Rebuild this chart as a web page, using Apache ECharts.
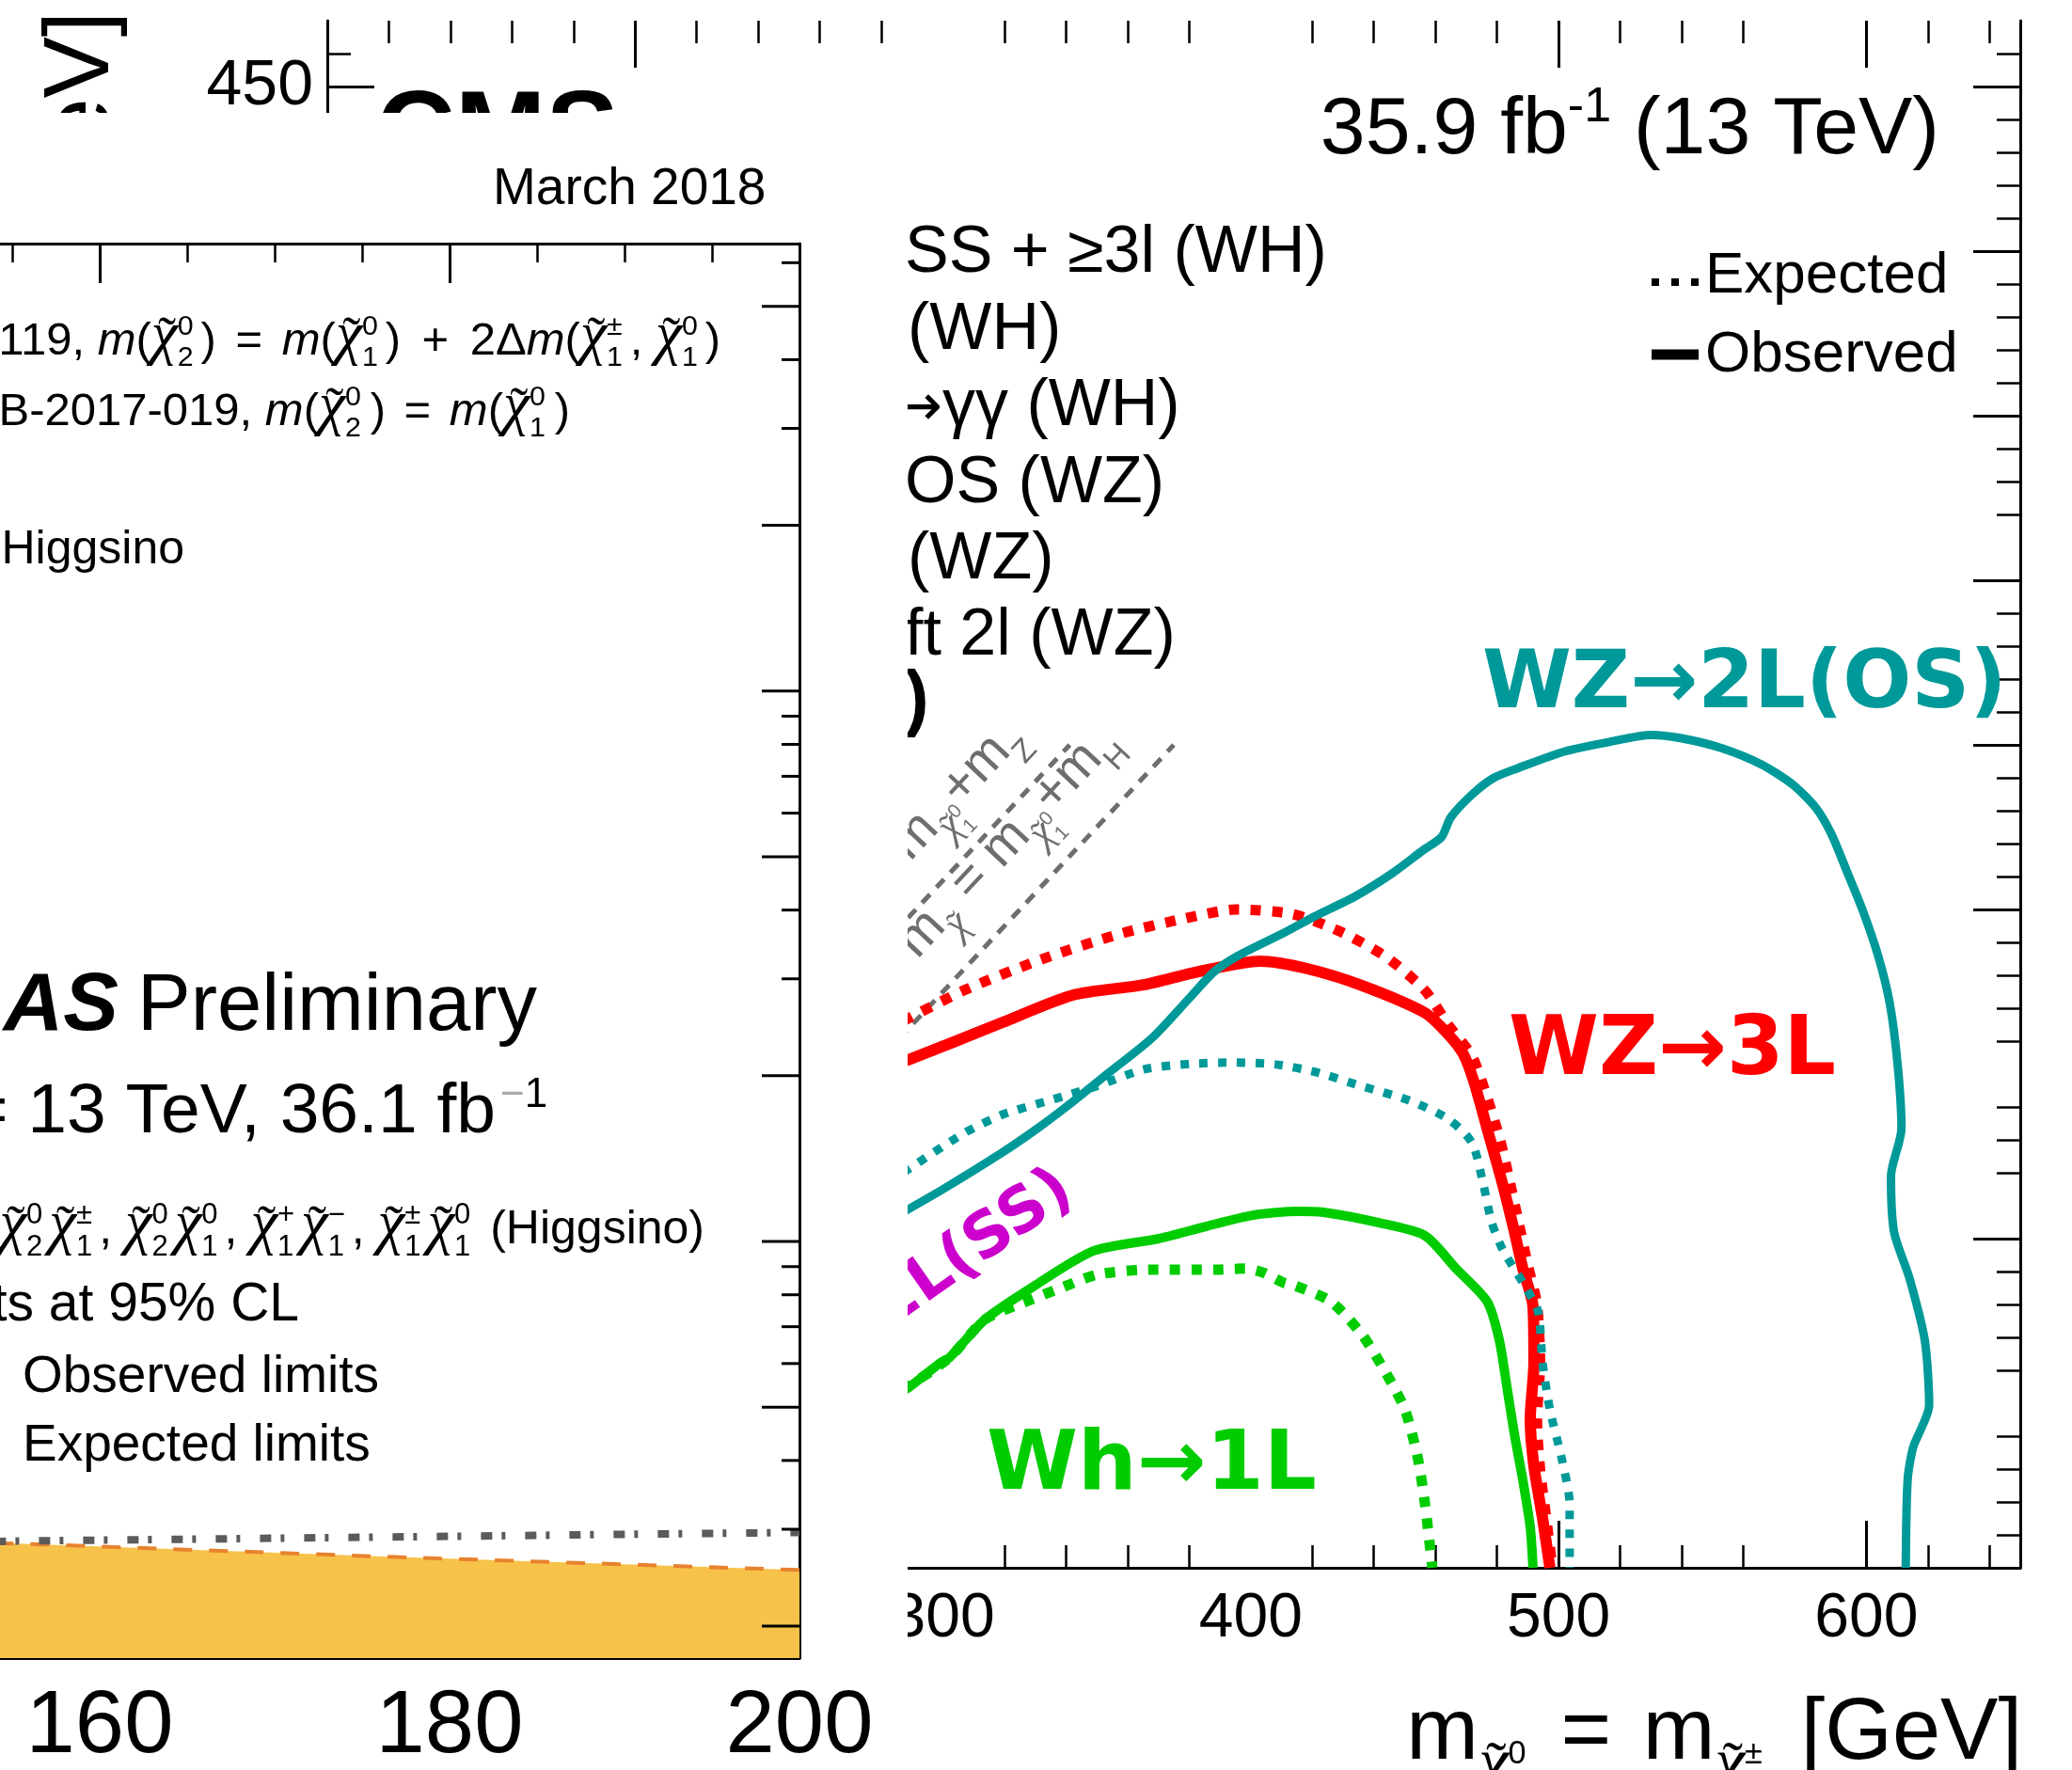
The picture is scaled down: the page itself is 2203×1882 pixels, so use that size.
<!DOCTYPE html>
<html><head><meta charset="utf-8">
<script src="https://cdn.jsdelivr.net/npm/echarts@6/dist/echarts.min.js"></script>
<style>
html,body{margin:0;padding:0;background:#fff;overflow:hidden;}
#cms{position:absolute;left:0;top:0;width:2203px;height:1882px;}
#atlas{position:absolute;left:0;top:120px;width:965px;height:1762px;background:#fff;}
</style></head><body>
<div id="cms"></div><div id="atlas"></div>
<script>
// ================= CMS plot data (GeV) =================
const tealObs = [[287,108],[300,115],[319,126],[330,133],[340,140],[352,149],[368,161],[380,173],[388,181],[396,186],[411,193],[421,198],[434,204],[446,211],[456,218],[462,222],[465,228],[472,235],[479,240],[487,243],[502,248],[517,251],[530,253],[540,252],[553,249],[566,244],[576,238],[583.5,231],[588.6,223],[593.7,211.5],[598.7,200],[603.8,186],[607.6,171.5],[610.2,152.5],[611.4,133.4],[608,119],[609,102],[614,88],[619,69],[620.4,49.4],[615.2,36.6],[613.4,26.6],[612.8,0]];
const tealExp = [[287,120],[306.8,132],[319.4,137.7],[334.7,142],[349.9,146.3],[365.2,151.4],[380.5,153.1],[395,153.5],[408.3,152.9],[421.1,150.6],[436.1,146.3],[451.4,142],[464.2,136.3],[471.9,129.1],[475.6,116.3],[478.3,104.9],[481.9,96.6],[488.4,86.6],[493.3,78],[494.8,62.3],[497.2,48],[500.9,33.7],[503.6,19.4],[503.6,0]];
const redObs = [[287,154],[288.8,154.3],[319.4,165.7],[342.3,174],[365.2,177.1],[383,181.1],[403.1,184.3],[418.4,182],[436.1,176.9],[456.6,168.6],[464.2,162],[469.1,156],[472.5,147.7],[476.8,133.4],[481.9,116.3],[485.6,102.3],[488.4,90.9],[491.7,79.4],[492,62.3],[490.8,45.1],[492,30.9],[494.8,15.1],[497.2,0]];
const redExp = [[287,166],[306.8,175.4],[332.2,184.9],[357.6,192.6],[377.7,197.1],[395.4,200],[413.5,198.6],[428.8,193.4],[443.8,185.7],[456.6,175.4],[464.2,164.9],[471.9,155.4],[476.8,142.9],[481,130],[484,118],[487,105],[490,92],[493,80],[494,62],[493,45],[494,30],[496,15],[498,0]];
const greenObs = [[287,54],[288.5,54.5],[299.2,62.3],[302.3,64],[313.6,75.4],[329.8,85.7],[349,96.3],[370.1,100],[385.4,103.7],[400.7,107.1],[415.3,108.3],[423.6,108],[441.3,104.9],[456.6,100.9],[466.7,90.9],[476.8,80.9],[480.7,69.4],[483.2,55.1],[485.6,40.9],[488.4,26.6],[490.8,12.3],[491.7,0]];
const greenExp = [[287,54],[302.3,64],[313.6,75.4],[327.6,81.1],[338,84.9],[350.2,89.1],[368.6,90.6],[388.8,90.6],[398.2,90.9],[404,89.7],[410.7,86.6],[414.4,85.7],[426,80.9],[436.1,70.9],[443.8,59.4],[450.1,48],[454.2,33.7],[456.6,19.4],[459,0]];
const diagZ = [[91.2,0],[341.2,250]];
const diagH = [[125,0],[375,250]];
const cmsXMin = 100, cmsXMax = 650, cmsYMin = 0, cmsYMax = 470;
const cmsXLabels = [100,200,300,400,500,600];
const cmsXMajorTicks = [100,200,500,600];
const cmsXMinorTicks = [120,140,160,180,220,240,260,280,320,340,360,380,420,440,460,480,520,540,560,620,640];
const cmsYLabels = [0,50,100,150,200,250,300,350,400,450];
const cmsYMajorTicks = [0,100,200,250,300,350,400,450];
const cmsYMinorTicks = [10,20,30,40,60,70,80,90,120,130,140,160,170,180,190,210,220,230,240,260,270,280,290,320,330,340,360,370,380,390,410,420,430,440,460];
const cmsLegendLines = ['SS + ≥3l (WH)','(WH)','γγ (WH)','OS (WZ)','(WZ)','ft 2l (WZ)'];

// ================= ATLAS plot data =================
const atlasXMin = 100, atlasXMax = 200, atlasYMin = 0.35, atlasYMax = 130;
const atlasXLabels = [100,120,140,160,180,200];
const atlasYMajorTicks = [0.4,1,2,4,10,20,40,100];
const atlasYMinorTicks = [0.6,0.8,1.2,1.4,1.6,1.8,6,8,12,14,16,18,60,80,120];
const atlasBand = [[154,0.566],[155.3,0.565],[177,0.534],[200,0.506]];
const atlasGrey = [[154,0.57],[155.3,0.571],[200,0.592]];

// ================= helpers =================
const SANS = "'Liberation Sans', Arial, Helvetica, sans-serif";
const SERIF = "'Liberation Serif', 'Times New Roman', serif";
const DJB = "'DejaVu Sans', sans-serif";
const mc = document.createElement('canvas').getContext('2d');
function fstr(o){ return (o.it?'italic ':'')+(o.bold?'bold ':'')+o.fs.toFixed(1)+'px '+(o.fam||SANS); }
function mw(o,s){ mc.font=fstr(o); return mc.measureText(s).width; }
function mathGroup(parts, opt){
  const F = opt.F, fam = opt.fam || SANS, color = opt.color || '#000';
  const chiPad = opt.chiPad != null ? opt.chiPad : 0.06;
  const items=[]; let cx=0;
  for (let p of parts){
    if (typeof p==='string') p={t:p};
    if (p.gap){ cx += p.gap; continue; }
    const sc = p.scale||1, dy0 = p.dy||0;
    if (p.chi){
      const co={fs:F*1.3*sc, it:true, fam:SERIF};
      const w=mw(co,'χ');
      items.push({x:cx, dy:dy0, t:'χ', o:co, fill:p.fill});
      items.push({x:cx+w*0.6, dy:dy0, t:'˜', o:{fs:co.fs*0.9, fam:SERIF}, center:true, fill:p.fill});
      cx+=w;
      const so={fs:F*0.62*sc, fam:SANS};
      const w1=p.chi[0]?mw(so,p.chi[0]):0, w2=p.chi[1]?mw(so,p.chi[1]):0;
      if(p.chi[0]) items.push({x:cx, dy:dy0-F*0.45*sc, t:p.chi[0], o:so, fill:p.fill});
      if(p.chi[1]) items.push({x:cx, dy:dy0+F*0.22*sc, t:p.chi[1], o:so, fill:p.fill});
      cx+=Math.max(w1,w2)+F*chiPad*sc;
    } else {
      const o={fs:(p.fs||F)*sc, it:p.it, bold:p.bold||opt.bold, fam:p.fam||fam};
      items.push({x:cx, dy:dy0, t:p.t, o, fill:p.fill});
      cx+=mw(o,p.t);
    }
  }
  const x0 = opt.align==='right' ? -cx : 0;
  const children = items.map(it=>({type:'text', x:x0+it.x, y:it.dy-(it.o.fam===SERIF?0.3375:0.3465)*it.o.fs, silent:true, z:100,
     style:{text:it.t, font:fstr(it.o), fill:it.fill||color, align:it.center?'center':'left', textAlign:it.center?'center':'left', verticalAlign:'middle', textVerticalAlign:'middle'}}));
  return {type:'group', x:opt.x, y:opt.y, rotation:opt.rotation||0, children, z:100, silent:true};
}
function gline(x1,y1,x2,y2,w,dash){ return {type:'line', z:100, silent:true, shape:{x1,y1,x2,y2}, style:{stroke:'#000', lineWidth:w, lineDash:dash||null}}; }

// ================= CMS chart =================
const tk = (len,w,vals)=>({show:true, inside:true, length:len, lineStyle:{color:'#000', width:w}, customValues:vals});
const noLab = {show:false};
const cmsAxisX = (pos, major, withLine, withLabel) => ({
  type:'value', position:pos, min:cmsXMin, max:cmsXMax, interval: major?100:20,
  axisLine:{show:withLine, onZero:false, lineStyle:{color:'#000', width:3}},
  axisTick: major ? tk(50,3,cmsXMajorTicks) : tk(24,2.5,cmsXMinorTicks),
  axisLabel: withLabel ? {show:true, customValues:cmsXLabels, color:'#000', fontFamily:SANS, fontSize:66, margin:22} : noLab,
  splitLine:{show:false}
});
const cmsAxisY = (pos, major, withLine, withLabel) => ({
  type:'value', position:pos, min:cmsYMin, max:cmsYMax, interval: major?50:10,
  axisLine:{show:withLine, onZero:false, lineStyle:{color:'#000', width:3}},
  axisTick: major ? tk(50,3,cmsYMajorTicks) : tk(25,2.5,cmsYMinorTicks),
  axisLabel: withLabel ? {show:true, customValues:cmsYLabels, color:'#000', fontFamily:SANS, fontSize:68, margin:15} : noLab,
  splitLine:{show:false}
});
const lineS = (data, color, width, dash, z) => ({type:'line', xAxisIndex:0, yAxisIndex:0, data, showSymbol:false, symbol:'none', smooth:0.25, clip:true, silent:true, z:z||2,
  lineStyle:{color, width, type: dash||'solid', cap:'butt', join:'round'}});

const TEAL='#009999', RED='#ff0000', GREEN='#00cc00', MAG='#cc00cc', GREY='#6e6e6e';
const cmsGraphic = [
  mathGroup([{t:'m'},{chi:['0','1'],scale:0.6,dy:22},{t:' [GeV]'}], {x:122, y:12, F:98, align:'right', rotation:Math.PI/2}),
  mathGroup([{t:'CMS', bold:true}], {x:400, y:186, F:116}),
  mathGroup([{t:'35.9 fb'},{t:'-1',fs:52,dy:-36},{t:' (13 TeV)'}], {x:2062, y:169, F:86, align:'right'}),
  mathGroup([{t:cmsLegendLines[0]}], {x:962, y:294, F:70}),
  mathGroup([{t:cmsLegendLines[1]}], {x:965, y:376, F:70}),
  mathGroup([{t:'→', fam:DJB, fs:62},{t:cmsLegendLines[2]}], {x:950, y:457, F:70}),
  mathGroup([{t:cmsLegendLines[3]}], {x:962, y:539, F:70}),
  mathGroup([{t:cmsLegendLines[4]}], {x:965, y:620, F:70}),
  mathGroup([{t:cmsLegendLines[5]}], {x:962, y:701, F:70}),
  mathGroup([{t:')', bold:true}], {x:962, y:773, F:77}),
  gline(1756,300,1806,300,8,[8,13]),
  mathGroup([{t:'Expected'}], {x:1813, y:315, F:62}),
  gline(1756,377,1806,377,11),
  mathGroup([{t:'Observed'}], {x:1813, y:399, F:62}),
  mathGroup([{t:'WZ→2L(OS)'}], {x:1576, y:759, F:86, fam:DJB, bold:true, color:TEAL}),
  mathGroup([{t:'WZ→3L'}], {x:1604, y:1150, F:87, fam:DJB, bold:true, color:RED}),
  mathGroup([{t:'Wh→1L'}], {x:1049, y:1591, F:88, fam:DJB, bold:true, color:GREEN}),
  mathGroup([{t:'2L(SS)'}], {x:1148, y:1278, F:67, fam:DJB, bold:true, color:MAG, align:'right', rotation:0.611}),
  mathGroup([{t:'m'},{chi:['',''],scale:0.6,dy:17},{t:' = m'},{chi:['0','1'],scale:0.6,dy:17},{t:'+m'},{t:'Z',scale:0.6,dy:17}], {x:1093, y:788, F:56, color:GREY, align:'right', rotation:0.82}),
  mathGroup([{t:'m'},{chi:['',''],scale:0.6,dy:17},{t:' = m'},{chi:['0','1'],scale:0.6,dy:17},{t:'+m'},{t:'H',scale:0.6,dy:17}], {x:1193, y:793, F:56, color:GREY, align:'right', rotation:0.82}),
  mathGroup([{t:'m'},{chi:['0','2'],scale:0.6,dy:25},{gap:8},{t:' = '},{gap:8},{t:'m'},{chi:['±','1'],scale:0.6,dy:25},{gap:12},{t:' [GeV]'}], {x:2150, y:1877, F:92, align:'right'})
];

const cmsChart = echarts.init(document.getElementById('cms'), null, {renderer:'canvas', width:2203, height:1882});
cmsChart.setOption({
  animation:false,
  grid:{left:348, right:55, top:22, bottom:215, containLabel:false, outerBoundsMode:'none'},
  xAxis:[cmsAxisX('bottom',true,true,true), cmsAxisX('bottom',false,false,false), cmsAxisX('top',true,false,false), cmsAxisX('top',false,false,false)],
  yAxis:[cmsAxisY('left',true,true,true), cmsAxisY('left',false,false,false), cmsAxisY('right',true,true,false), cmsAxisY('right',false,false,false)],
  series:[
    lineS(diagZ, GREY, 5, [12,10], 2),
    lineS(diagH, GREY, 5, [12,10], 2),
    lineS(redExp, RED, 11, [11,12], 3),
    lineS(redObs, RED, 12, 'solid', 4),
    lineS(tealExp, TEAL, 9, [9,11], 5),
    lineS(tealObs, TEAL, 9, 'solid', 6),
    lineS(greenExp, GREEN, 11, [11,12], 7),
    lineS(greenObs, GREEN, 10, 'solid', 8)
  ],
  graphic: cmsGraphic
});

// ================= ATLAS chart (overlay) =================
function tickSeries(values, len, width){
  return {type:'custom', xAxisIndex:0, yAxisIndex:0, silent:true, z:5, clip:false,
    data: values.map(v=>[atlasXMax, v]),
    renderItem:(params, api)=>{ const p = api.coord([api.value(0), api.value(1)]);
      return {type:'line', shape:{x1:p[0]-len, y1:p[1], x2:p[0], y2:p[1]}, style:{stroke:'#000', lineWidth:width}}; }};
}
const atlasAxisX = (pos, withLabel) => ({
  type:'value', position:pos, min:atlasXMin, max:atlasXMax, interval:20,
  axisLine:{show:true, onZero:false, lineStyle:{color:'#000', width:3}},
  axisTick:{show:true, inside:true, length:42, lineStyle:{color:'#000', width:3}},
  minorTick:{show:true, splitNumber:4, length:20, lineStyle:{color:'#000', width:2.5}},
  axisLabel: withLabel ? {show:true, customValues:atlasXLabels, color:'#000', fontFamily:SANS, fontSize:94, margin:27} : {show:false},
  splitLine:{show:false}, minorSplitLine:{show:false}
});
const atlasGraphic = [
  mathGroup([{t:'March 2018'}], {x:524, y:101, F:55}),
  mathGroup(['arXiv:1712.08119, ',{t:'m',it:true},'(',{chi:['0','2']},')',{gap:7},' = ',{gap:7},{t:'m',it:true},'(',{chi:['0','1']},')',{gap:9},' + ',{gap:9},'2Δ',{t:'m',it:true},'(',{chi:['±','1']},', ',{chi:['0','1']},')'], {x:766, y:260, F:49, align:'right', chiPad:0.16}),
  mathGroup(['ATL-PHYS-PUB-2017-019, ',{t:'m',it:true},'(',{chi:['0','2']},')',{gap:6},' = ',{gap:6},{t:'m',it:true},'(',{chi:['0','1']},')'], {x:606, y:335, F:49, align:'right', chiPad:0.2}),
  mathGroup(['pure Higgsino'], {x:196, y:483, F:50, align:'right'}),
  mathGroup([{t:'ATLAS', bold:true, it:true}], {x:126, y:981, F:88, align:'right'}),
  mathGroup(['Preliminary'], {x:146, y:981, F:85}),
  mathGroup(['√s = 13 TeV, 36.1 fb'], {x:527, y:1089, F:75, align:'right'}),
  mathGroup([{t:'−', fill:'#aaaaaa'},{t:'1'}], {x:532, y:1060, F:44}),
  mathGroup([{chi:['0','2']},{chi:['±','1']},', ',{chi:['0','2']},{chi:['0','1']},', ',{chi:['+','1']},{chi:['−','1']},', ',{chi:['±','1']},{chi:['0','1']},' (Higgsino)'], {x:749, y:1206, F:50, align:'right', chiPad:0.14}),
  mathGroup(['Limits at 95% CL'], {x:318, y:1288, F:57, align:'right'}),
  mathGroup(['Observed limits'], {x:24, y:1364, F:55}),
  mathGroup(['Expected limits'], {x:24, y:1437, F:55})
];
const atlasChart = echarts.init(document.getElementById('atlas'), null, {renderer:'canvas', width:965, height:1762});
atlasChart.setOption({
  animation:false,
  grid:{left:-1010, right:115, top:139, bottom:119, containLabel:false, outerBoundsMode:'none'},
  xAxis:[atlasAxisX('bottom',true), atlasAxisX('top',false)],
  yAxis:[{type:'log', logBase:10, position:'right', min:atlasYMin, max:atlasYMax,
    axisLine:{show:true, onZero:false, lineStyle:{color:'#000', width:3}}, axisTick:{show:false}, axisLabel:{show:false}, splitLine:{show:false}}],
  series:[
    {type:'line', data:atlasBand, showSymbol:false, symbol:'none', silent:true, z:2,
      areaStyle:{color:'#f7c24a', opacity:1, origin:'start'}, lineStyle:{color:'#e8822e', width:4, type:[20,18]}},
    {type:'line', data:atlasGrey, showSymbol:false, symbol:'none', silent:true, z:3,
      lineStyle:{color:'#5b5b5b', width:8, type:[12,10,4,21]}},
    tickSeries(atlasYMajorTicks, 40, 3),
    tickSeries(atlasYMinorTicks, 19, 3)
  ],
  graphic: atlasGraphic
});
</script>
</body></html>
